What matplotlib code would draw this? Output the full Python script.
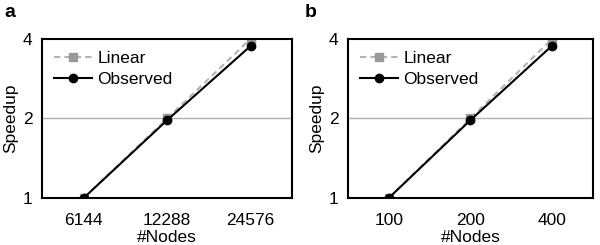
import matplotlib
matplotlib.use('Agg')
import matplotlib.pyplot as plt
from matplotlib.ticker import FixedLocator, NullLocator

plt.rcParams['font.family'] = ['Liberation Sans', 'DejaVu Sans']

nodes_a = ['6144', '12288', '24576']
nodes_b = ['100', '200', '400']
linear = [1, 2, 4]
observed_a = [1, 1.97, 3.76]
observed_b = [1, 1.97, 3.77]

fig = plt.figure(figsize=(6, 2.45), dpi=100)

panels = [
    ('a', nodes_a, observed_a, [0.07, 0.192, 0.417, 0.649], 0.008),
    ('b', nodes_b, observed_b, [0.58, 0.192, 0.408, 0.649], 0.508),
]

for label, nodes, observed, rect, lx in panels:
    ax = fig.add_axes(rect)
    x = list(range(len(nodes)))
    ax.set_yscale('log', base=2)
    ax.axhline(2, color='#b0b0b0', lw=1, zorder=0)
    ax.plot(x, linear, color='#b3b3b3', ls=(0, (3, 2)), lw=1.5,
            marker='s', ms=5.5, mfc='#999999', mec='#999999', label='Linear')
    ax.plot(x, observed, color='black', lw=1.5, marker='o', ms=6,
            label='Observed')
    ax.set_xlim(-0.5, 2.5)
    ax.set_ylim(1, 4)
    ax.set_xticks(x)
    ax.set_xticklabels(nodes)
    ax.yaxis.set_major_locator(FixedLocator([1, 2, 4]))
    ax.yaxis.set_minor_locator(NullLocator())
    ax.set_yticklabels(['1', '2', '4'])
    ax.tick_params(length=0, labelsize=12.5)
    ax.tick_params(axis='x', pad=11)
    ax.tick_params(axis='y', pad=7)
    for s in ax.spines.values():
        s.set_linewidth(1.5)
    ax.set_xlabel('#Nodes', fontsize=12.5, labelpad=1)
    ax.set_ylabel('Speedup', fontsize=12.5, labelpad=3)
    ax.legend(loc='upper left', frameon=False, fontsize=12.5,
              handlelength=2.2, handletextpad=0.3, borderaxespad=0.3,
              labelspacing=0.3)
    fig.text(lx, 0.985, label, fontsize=14, fontweight='bold', va='top')

fig.savefig('out.png', dpi=100)
